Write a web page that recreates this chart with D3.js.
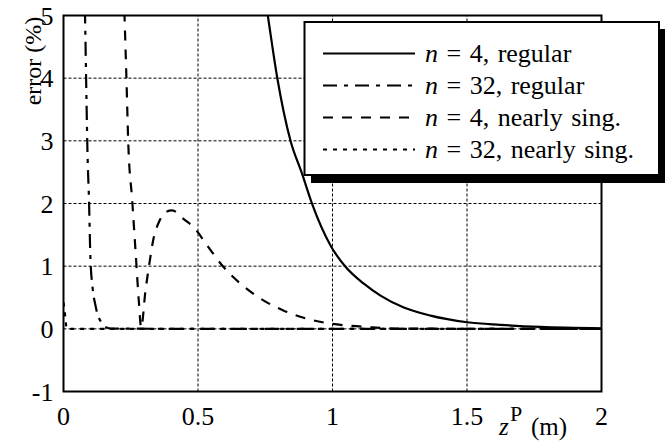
<!DOCTYPE html>
<html>
<head>
<meta charset="utf-8">
<script src="https://cdn.jsdelivr.net/npm/d3@7"></script>
<style>
  body { margin: 0; background: #fff; }
  svg text { font-family: "Liberation Serif", "Times New Roman", Times, "DejaVu Serif", serif; }
</style>
</head>
<body>
<div id="vis"></div>
<script>
const FRAME_WIDTH = 665;
const FRAME_HEIGHT = 442;
const MARGINS = {left: 63.5, top: 15.5};
const SERIF = "'Liberation Serif', 'Times New Roman', Times, 'DejaVu Serif', serif";

const X_TICKS = [0, 0.5, 1, 1.5, 2];
const Y_TICKS = [-1, 0, 1, 2, 3, 4, 5];

// n = 4, regular (solid)
const reg4_z = [0.74, 0.7595, 0.7944, 0.8439, 0.8874, 0.9245, 0.9926, 1.0483, 1.1164, 1.1784, 1.2651, 1.3643, 1.5008, 1.6245, 1.773, 2.0];
const reg4_e = [5.56, 5.0, 4.01, 3.0, 2.47, 1.99, 1.33, 0.99, 0.72, 0.53, 0.34, 0.21, 0.105, 0.064, 0.03, 0.008];

// n = 32, regular (dash-dot)
const reg32_z = [0.077, 0.080, 0.0855, 0.089, 0.0948, 0.100, 0.108, 0.119, 0.126, 0.138, 0.149, 0.175, 0.5, 1.0, 1.5, 2.0];
const reg32_e = [5.6, 5.0, 3.64, 2.84, 2.05, 1.14, 0.66, 0.37, 0.24, 0.12, 0.05, 0.005, 0, 0, 0, 0];

// n = 4, nearly singular (dashed)
const ns4_z = [0.222, 0.2268, 0.2342, 0.2405, 0.2554, 0.2677, 0.2799, 0.2888, 0.3048, 0.3171, 0.3357, 0.3543, 0.3792, 0.4041, 0.4472, 0.4844, 0.5342, 0.59, 0.658, 0.7446, 0.819, 0.9059, 0.9989, 1.0546, 1.1413, 1.2405, 1.6, 2.0];
const ns4_e = [5.67, 5.0, 3.96, 3.0, 2.05, 1.25, 0.45, 0.02, 0.61, 0.98, 1.46, 1.70, 1.86, 1.89, 1.75, 1.62, 1.33, 1.01, 0.72, 0.45, 0.29, 0.16, 0.08, 0.053, 0.026, 0.005, 0, 0];

// n = 32, nearly singular (dotted)
const ns32_z = [0.0, 0.004, 0.008, 0.012, 0.5, 1.0, 1.5, 2.0];
const ns32_e = [0.42, 0.3, 0.12, 0.0, 0, 0, 0, 0];

const SERIES = [
  {z: reg4_z, e: reg4_e, dash: null, label: " = 4, regular"},
  {z: reg32_z, e: reg32_e, dash: "14,7,4,7", label: " = 32, regular"},
  {z: ns4_z, e: ns4_e, dash: "10,9", label: " = 4, nearly sing."},
  {z: ns32_z, e: ns32_e, dash: "4,6", label: " = 32, nearly sing."}
];

const svg = d3.select("#vis").append("svg")
  .attr("width", FRAME_WIDTH)
  .attr("height", FRAME_HEIGHT)
  .attr("font-family", SERIF);

const x_scale = d3.scaleLinear().domain([0, 2]).range([MARGINS.left, MARGINS.left + 538]);
const y_scale = d3.scaleLinear().domain([-1, 5]).range([MARGINS.top + 376, MARGINS.top]);

svg.append("clipPath").attr("id", "plotclip")
  .append("rect")
    .attr("x", x_scale(0)).attr("y", y_scale(5))
    .attr("width", x_scale(2) - x_scale(0))
    .attr("height", y_scale(-1) - y_scale(5));

// grid
const grid = svg.append("g").attr("stroke", "#000").attr("stroke-width", 1).attr("stroke-dasharray", "3,2");
grid.selectAll(".hg").data(Y_TICKS.filter(d => d > -1 && d < 5)).join("line")
  .attr("x1", x_scale(0)).attr("x2", x_scale(2))
  .attr("y1", d => y_scale(d)).attr("y2", d => y_scale(d));
grid.selectAll(".vg").data(X_TICKS.filter(d => d > 0 && d < 2)).join("line")
  .attr("y1", y_scale(-1)).attr("y2", y_scale(5))
  .attr("x1", d => x_scale(d)).attr("x2", d => x_scale(d));

// curves
const line = d3.line().x(d => x_scale(d[0])).y(d => y_scale(d[1])).curve(d3.curveMonotoneX);
svg.append("g").attr("clip-path", "url(#plotclip)")
  .selectAll("path").data(SERIES).join("path")
    .attr("fill", "none")
    .attr("stroke", "#000")
    .attr("stroke-width", 2.2)
    .attr("stroke-dasharray", d => d.dash)
    .attr("d", d => line(d.z.map((z, i) => [z, d.e[i]])));

// frame
svg.append("rect")
  .attr("x", x_scale(0)).attr("y", y_scale(5))
  .attr("width", x_scale(2) - x_scale(0))
  .attr("height", y_scale(-1) - y_scale(5))
  .attr("fill", "none").attr("stroke", "#000").attr("stroke-width", 2);

// tick labels
svg.append("g").selectAll("text").data(Y_TICKS).join("text")
  .attr("x", x_scale(0) - 10)
  .attr("y", d => y_scale(d))
  .attr("dy", "0.35em")
  .attr("text-anchor", "end")
  .attr("font-size", 26)
  .text(d => d);

svg.append("g").selectAll("text").data(X_TICKS).join("text")
  .attr("x", d => x_scale(d))
  .attr("y", 425)
  .attr("text-anchor", "middle")
  .attr("font-size", 26)
  .text(d => d);

// axis labels
svg.append("text")
  .attr("transform", "translate(41,61) rotate(-90)")
  .attr("text-anchor", "middle")
  .attr("font-size", 24)
  .text("error (%)");

const xl = svg.append("text").attr("font-size", 25);
xl.append("tspan").attr("x", 499).attr("y", 435).attr("font-style", "italic").text("z");
xl.append("tspan").attr("x", 510).attr("y", 421).attr("font-size", 22).text("P");
xl.append("tspan").attr("x", 531).attr("y", 435).text("(m)");

// legend
const leg = svg.append("g");
leg.append("rect").attr("x", 311).attr("y", 29).attr("width", 356).attr("height", 154).attr("fill", "#000");
leg.append("rect").attr("x", 304.5).attr("y", 22).attr("width", 354.5).attr("height", 153)
  .attr("fill", "#fff").attr("stroke", "#000").attr("stroke-width", 2);

const rows = leg.selectAll(".row").data(SERIES).join("g")
  .attr("transform", (d, i) => `translate(0, ${53.5 + i * 32})`);
rows.append("line")
  .attr("x1", 323).attr("x2", 415).attr("y1", 0).attr("y2", 0)
  .attr("stroke", "#000").attr("stroke-width", 2)
  .attr("stroke-dasharray", d => d.dash);
const lt = rows.append("text").attr("x", 425).attr("y", 8.5)
  .attr("font-size", 26).attr("word-spacing", 2);
lt.append("tspan").attr("font-style", "italic").text("n");
lt.append("tspan").text(d => d.label);
</script>
</body>
</html>
